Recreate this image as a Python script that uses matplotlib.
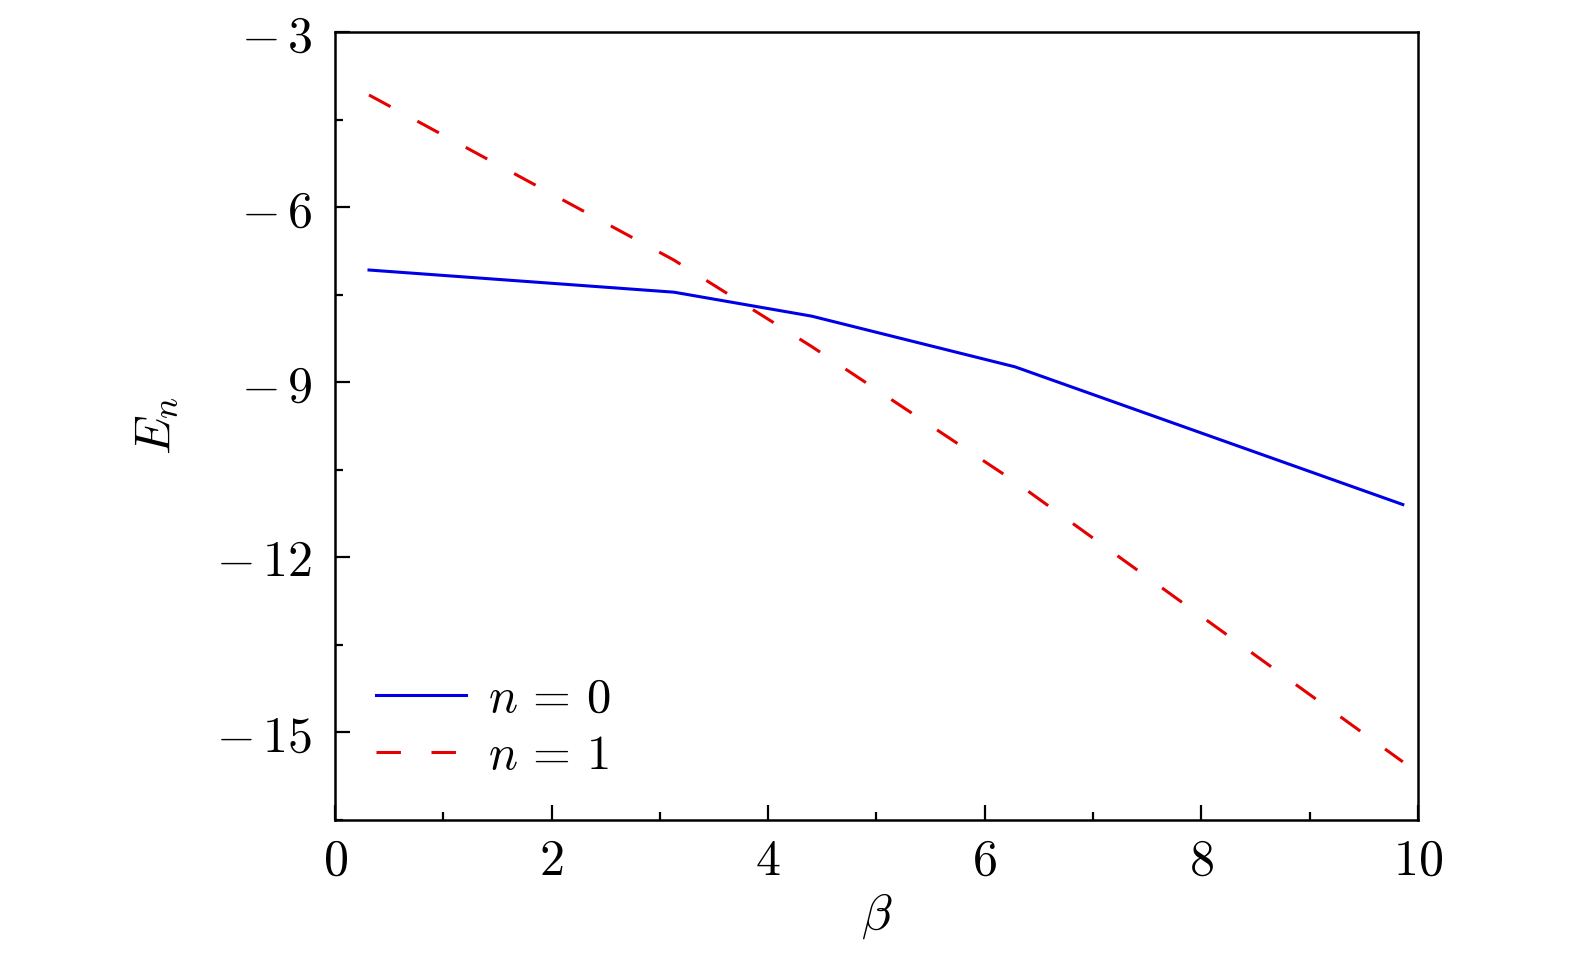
import numpy as np
import matplotlib.pyplot as plt
from matplotlib.ticker import MultipleLocator, FuncFormatter

plt.rcParams['mathtext.fontset'] = 'cm'
plt.rcParams['font.family'] = 'serif'

beta = [0.314, 3.13, 4.40, 6.28, 9.86]
E_n0 = [-7.08, -7.46, -7.87, -8.74, -11.10]
E_n1 = [-4.08, -6.91, -8.39, -10.71, -15.51]

fig = plt.figure(figsize=(15.75, 9.55), dpi=100)
ax = fig.add_axes([0.2127, 0.1418, 0.6876, 0.8247])

ax.plot(beta, E_n0, color='#0000e6', lw=2.2, label=r'$n\,=\,0$')
ax.plot(beta, E_n1, color='#e60000', lw=2.2, dashes=(8, 10), label=r'$n\,=\,1$')

ax.set_xlim(0, 10)
ax.set_ylim(-16.5, -3)
ax.xaxis.set_major_locator(MultipleLocator(2))
ax.xaxis.set_minor_locator(MultipleLocator(1))
ax.yaxis.set_major_locator(MultipleLocator(3))
ax.yaxis.set_minor_locator(MultipleLocator(1.5))


def lab(v, p):
    v = int(round(v))
    if v < 0:
        return r'$-\,%d$' % (-v)
    return r'$%d$' % v


ax.xaxis.set_major_formatter(FuncFormatter(lab))
ax.yaxis.set_major_formatter(FuncFormatter(lab))
ax.tick_params(which='both', direction='in', top=False, right=False,
               width=1.6, labelsize=36)
ax.tick_params(axis='x', pad=12)
ax.tick_params(axis='y', pad=16.5)
ax.tick_params(which='major', length=11)
ax.tick_params(which='minor', length=6)
for s in ax.spines.values():
    s.set_linewidth(1.8)

ax.set_xlabel(r'$\beta$', fontsize=36, labelpad=4)
ax.set_ylabel(r'$E_n$', fontsize=36, labelpad=26)

ax.legend(loc='lower left', frameon=False, fontsize=35, handlelength=1.85,
          handletextpad=0.45, labelspacing=0.2, borderaxespad=0.44,
          bbox_to_anchor=(0.0, 0.0))

fig.savefig('out.png', dpi=100)
